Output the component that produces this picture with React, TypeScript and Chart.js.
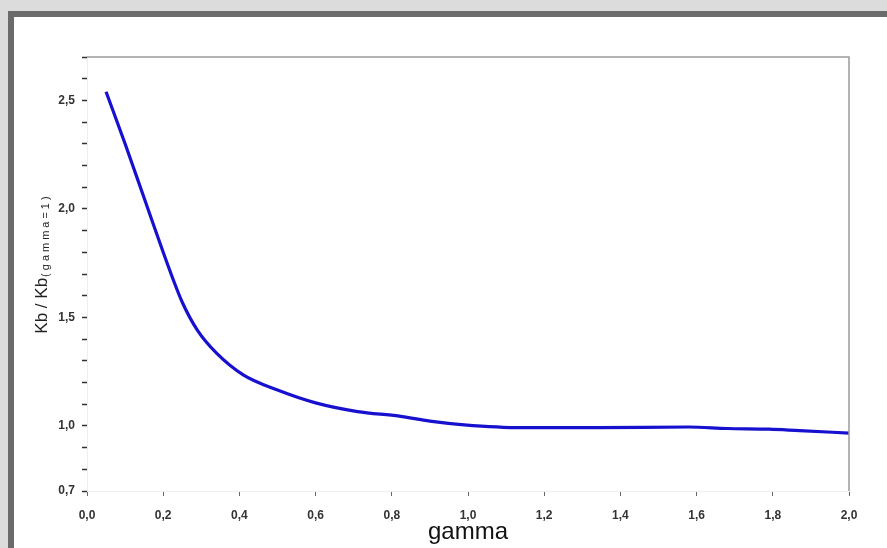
import React, { useEffect, useRef } from "react";
import { Chart, registerables } from "chart.js";

Chart.register(...registerables);

// ---- data ----
const gammaValues = [0.05, 0.1, 0.15, 0.2, 0.225, 0.25, 0.29, 0.34, 0.41, 0.5, 0.6, 0.71, 0.82, 0.9, 0.99, 1.14, 1.34, 1.58, 1.68, 1.79, 1.87, 2.0];
const kbRatioValues = [2.54, 2.3, 2.05, 1.8, 1.68, 1.57, 1.44, 1.335, 1.235, 1.165, 1.106, 1.066, 1.045, 1.022, 1.005, 0.992, 0.992, 0.995, 0.988, 0.985, 0.978, 0.967];

const xTickValues = [0, 0.2, 0.4, 0.6, 0.8, 1.0, 1.2, 1.4, 1.6, 1.8, 2.0];
const yTickMarks = [0.7, 0.8, 0.9, 1.0, 1.1, 1.2, 1.3, 1.4, 1.5, 1.6, 1.7, 1.8, 1.9, 2.0, 2.1, 2.2, 2.3, 2.4, 2.5, 2.6, 2.7];
const yTickLabels = [0.7, 1.0, 1.5, 2.0, 2.5];

const xTitle = "gamma";
const yTitleMain = "Kb / Kb";
const yTitleSub = "(gamma=1)";

const fmt = (v: number) => v.toFixed(1).replace(".", ",");

const framePlugin = {
  id: "frameAndYTitle",
  afterDraw(chart: any) {
    const { ctx, chartArea } = chart;
    ctx.save();
    // top and right frame lines
    ctx.strokeStyle = "#9a9a9a";
    ctx.lineWidth = 1.5;
    ctx.beginPath();
    ctx.moveTo(chartArea.left, chartArea.top);
    ctx.lineTo(chartArea.right, chartArea.top);
    ctx.lineTo(chartArea.right, chartArea.bottom);
    ctx.stroke();

    // y title with subscript
    const mainFont = "17px 'Liberation Sans', Arial, sans-serif";
    const subFont = "11px 'Liberation Sans', Arial, sans-serif";
    ctx.font = mainFont;
    const wMain = ctx.measureText(yTitleMain).width;
    ctx.font = subFont;
    (ctx as any).letterSpacing = "3px";
    const wSub = ctx.measureText(yTitleSub).width;
    (ctx as any).letterSpacing = "0px";
    const total = wMain + wSub;
    const cy = (chartArea.top + chartArea.bottom) / 2 - 10;
    const bx = chartArea.left - 40;
    ctx.translate(bx, cy + total / 2);
    ctx.rotate(-Math.PI / 2);
    ctx.fillStyle = "#222";
    ctx.textAlign = "left";
    ctx.textBaseline = "alphabetic";
    ctx.font = mainFont;
    ctx.fillText(yTitleMain, 0, 0);
    ctx.font = subFont;
    (ctx as any).letterSpacing = "3px";
    ctx.fillText(yTitleSub, wMain + 1, 2);
    (ctx as any).letterSpacing = "0px";
    ctx.restore();
  },
};

export default function App() {
  const canvasRef = useRef<HTMLCanvasElement | null>(null);

  useEffect(() => {
    if (!canvasRef.current) return;
    const data = gammaValues.map((g, i) => ({ x: g, y: kbRatioValues[i] }));
    const chart = new Chart(canvasRef.current, {
      type: "line",
      data: {
        datasets: [
          {
            data,
            borderColor: "#1710cf",
            borderWidth: 3.2,
            pointRadius: 0,
            fill: false,
            cubicInterpolationMode: "monotone",
          },
        ],
      },
      options: {
        animation: false,
        responsive: false,
        devicePixelRatio: 1,
        layout: { padding: { top: 57, right: 38, left: 0, bottom: 0 } },
        plugins: { legend: { display: false }, tooltip: { enabled: false } },
        scales: {
          x: {
            type: "linear",
            position: "bottom",
            min: 0,
            max: 2,
            afterBuildTicks: (scale: any) => {
              scale.ticks = xTickValues.map((v) => ({ value: v }));
            },
            afterFit: (scale: any) => {
              scale.height = 57;
            },
            ticks: {
              autoSkip: false,
              maxRotation: 0,
              padding: 12,
              color: "#333",
              font: { family: "'Liberation Sans', Arial, sans-serif", size: 12, weight: "bold" },
              callback: (v: any) => fmt(Number(v)),
            },
            grid: {
              drawOnChartArea: false,
              drawTicks: true,
              tickLength: 5,
              tickColor: "#666",
              tickWidth: 1,
            },
            border: { color: "#eeeeee", width: 1 },
            title: {
              display: true,
              text: xTitle,
              color: "#111",
              font: { family: "'Liberation Sans', Arial, sans-serif", size: 24 },
              padding: { top: 0, bottom: 1 },
            },
          },
          y: {
            type: "linear",
            min: 0.7,
            max: 2.7,
            afterBuildTicks: (scale: any) => {
              scale.ticks = yTickMarks.map((v) => ({ value: v }));
            },
            afterFit: (scale: any) => {
              scale.width = 87;
            },
            ticks: {
              autoSkip: false,
              padding: 7,
              color: "#333",
              font: { family: "'Liberation Sans', Arial, sans-serif", size: 12, weight: "bold" },
              callback: (v: any) => {
                const n = Number(v);
                return yTickLabels.some((t) => Math.abs(t - n) < 1e-6) ? fmt(n) : "";
              },
            },
            grid: {
              drawOnChartArea: false,
              drawTicks: true,
              tickLength: 5,
              tickColor: "#333",
              tickWidth: 1.5,
            },
            border: { color: "#eeeeee", width: 1 },
          },
        },
      },
      plugins: [framePlugin],
    } as any);
    return () => chart.destroy();
  }, []);

  return (
    <div style={{ position: "fixed", left: 0, top: 0, width: 887, height: 548, background: "#dcdcdc", overflow: "hidden" }}>
      <div
        style={{
          position: "absolute",
          left: 8,
          top: 11,
          width: 900,
          height: 560,
          background: "#ffffff",
          borderLeft: "6px solid #6b6b6b",
          borderTop: "6px solid #6b6b6b",
        }}
      />
      <canvas
        ref={canvasRef}
        width={887}
        height={548}
        style={{ position: "absolute", left: 0, top: 0, width: 887, height: 548 }}
      />
    </div>
  );
}
